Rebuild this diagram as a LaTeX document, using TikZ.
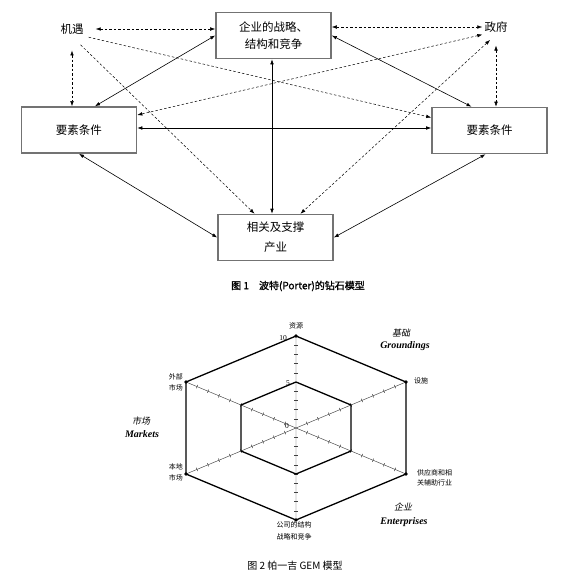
\documentclass[tikz,border=0pt]{standalone}
\usepackage{fontspec}
\setmainfont{Liberation Serif}
\newfontfamily\cjk{Noto Sans CJK SC}
\newfontfamily\cjkit[FakeSlant=0.2]{Noto Sans CJK SC}
\newfontfamily\cjkbf[FakeBold=1.2]{Noto Sans CJK SC}
\usetikzlibrary{arrows.meta,calc}

\begin{document}
\begin{tikzpicture}[x=1pt, y=-1pt, >={Latex[length=5pt,width=3.6pt]}, line cap=round,
  kuang/.style={draw=black!55, line width=1.6pt, minimum width=115pt, minimum height=46pt,
    align=center, font=\cjk\fontsize{11.5}{17}\selectfont},
  wenzi/.style={font=\cjk\fontsize{11.5}{14}\selectfont, inner sep=2pt},
  shixian/.style={<->, line width=0.6pt},
  xuxian/.style={line width=0.5pt, line cap=butt, dash pattern=on 2.5pt off 2pt},
  zhou/.style={line width=0.45pt, black!75},
  liubian/.style={line width=1.3pt, line join=miter},
  biaozhu/.style={font=\cjk\fontsize{7}{11}\selectfont, align=center, inner sep=1pt},
  shuzi/.style={font=\fontsize{7.5}{9}\selectfont, inner sep=0pt},
  fenlei/.style={font=\bfseries\itshape\fontsize{10}{12}\selectfont, inner sep=0pt},
  fenleizi/.style={font=\cjkit\fontsize{9}{11}\selectfont, inner sep=0pt}]
\useasboundingbox (0,0) rectangle (570,579);
% 图 1：钻石模型的四个方框
\node[kuang] (zhanlue) at (273.5,35.5) {企业的战略、\\结构和竞争};
\node[kuang] (yaosuL) at (79,130) {要素条件};
\node[kuang] (yaosuR) at (489.5,130.5) {要素条件};
\node[kuang, font=\cjk\fontsize{11.5}{20}\selectfont] (xiangguan) at (275.5,237.5) {相关及支撑\\产业};
\node[wenzi] (jiyu) at (72,29) {机遇};
\node[wenzi] (zhengfu) at (496,27) {政府};
% 实线双向箭头
\draw[shixian] (zhanlue.west) -- ([xshift=16pt]yaosuL.north);
\draw[shixian] (zhanlue.east) -- ([xshift=-18pt]yaosuR.north);
\draw[shixian] ([xshift=-1.5pt]zhanlue.south) -- ([xshift=-1.5pt]zhanlue.south |- xiangguan.north);
\draw[shixian] ([yshift=2pt]yaosuL.east) -- ([yshift=2pt]yaosuL.east -| yaosuR.west);
\draw[shixian] (yaosuL.south) -- (xiangguan.west);
\draw[shixian] ([xshift=-4pt]yaosuR.south) -- (xiangguan.east);
% 机遇（虚线）
\draw[xuxian, <->, shorten <=10pt] (jiyu.east) -- (zhanlue.west |- jiyu.east);
\draw[xuxian, <->, shorten <=14pt] (jiyu.south) -- (jiyu.south |- yaosuL.north);
\draw[xuxian, ->, shorten <=3pt] (jiyu.south east) -- ([yshift=13pt]yaosuR.west);
\draw[xuxian, ->, shorten <=12pt] (jiyu.south) -- ([xshift=-21pt]xiangguan.north);
% 政府（虚线）
\draw[xuxian, <->] (zhanlue.east |- zhengfu.west) -- (zhengfu.west);
\draw[xuxian, <->, shorten <=11pt] (zhengfu.south) -- (zhengfu.south |- yaosuR.north);
\draw[xuxian, <->] (zhengfu.south west) -- ([yshift=15pt]yaosuL.east);
\draw[xuxian, <->, shorten <=8pt] (zhengfu.south) -- ([xshift=25pt]xiangguan.north);
\node[font=\cjkbf\fontsize{10}{12}\selectfont] (tu1) at (298,286) {图 1\quad 波特(Porter)的钻石模型};
% 图 2：GEM 六边形
\coordinate (O) at (296,428);
\foreach \k/\a in {1/90,2/30,3/-30,4/-90,5/-150,6/150} {
  \coordinate (v\k) at ($(O)+({127*cos(\a)},{-92*sin(\a)})$);
  \coordinate (w\k) at ($(O)+({63.5*cos(\a)},{-46*sin(\a)})$);
}
\draw[zhou] (v1) -- (v4) (v2) -- (v5) (v3) -- (v6);
% 轴上刻度
\foreach \a in {90,30,-30,-90,-150,150}
  \foreach \i in {1,...,9} {
    \pgfmathsetmacro\tx{\i/10*127*cos(\a)}
    \pgfmathsetmacro\ty{-\i/10*92*sin(\a)}
    \pgfmathsetmacro\L{veclen(127*cos(\a),92*sin(\a))}
    \pgfmathsetmacro\nx{1.7*92*sin(\a)/\L}
    \pgfmathsetmacro\ny{1.7*127*cos(\a)/\L}
    \draw[zhou] ($(O)+(\tx+\nx,\ty+\ny)$) -- ($(O)+(\tx-\nx,\ty-\ny)$);
  }
\draw[liubian] (v1) -- (v2) -- (v3) -- (v4) -- (v5) -- (v6) -- cycle;
\draw[liubian] (w1) -- (w2) -- (w3) -- (w4) -- (w5) -- (w6) -- cycle;
\foreach \k in {1,...,6} \fill (v\k) circle (1.8pt);
% 刻度数字
\node[shuzi] (s10) at (283,338) {10};
\node[shuzi] (s5) at (288,383) {5};
\node[shuzi] (s0) at (287,426) {0};
% 各轴名称
\node[biaozhu] (ziyuan) at (296,326) {资源};
\node[biaozhu, anchor=west] (sheshi) at (413,381) {设施};
\node[biaozhu, anchor=west, font=\cjk\fontsize{7}{10.5}\selectfont] (gongying) at (416,478) {供应商和相\\关辅助行业};
\node[biaozhu, font=\cjk\fontsize{7}{11.5}\selectfont] (gongsi) at (294,531) {公司的结构\\战略和竞争};
\node[biaozhu, anchor=east] (waibu) at (184,382) {外部\\市场};
\node[biaozhu, anchor=east] (bendi) at (184,472) {本地\\市场};
% 三组分类
\node[fenleizi] (jichu) at (401,333) {基础};
\node[fenlei] (gr) at (405,346) {Groundings};
\node[fenleizi] (qiye) at (403,507) {企业};
\node[fenlei] (en) at (404,522) {Enterprises};
\node[fenleizi] (shichang) at (141,421) {市场};
\node[fenlei] (ma) at (142,434) {Markets};
\node[font=\cjk\fontsize{10}{12}\selectfont] (tu2) at (295,566) {图 2 帕一吉 GEM 模型};
\end{tikzpicture}
\end{document}
